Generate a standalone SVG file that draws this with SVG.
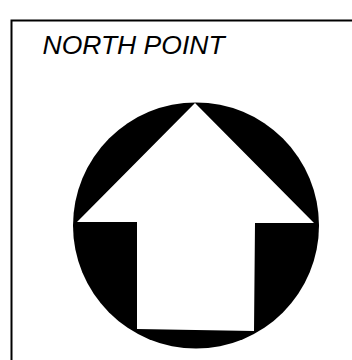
<svg xmlns="http://www.w3.org/2000/svg" width="352" height="360" viewBox="0 0 352 360">
<style>
.frame{fill:none;stroke:#000;stroke-width:2}
.title{font-family:"Liberation Sans",Arial,sans-serif;font-style:italic;font-size:26.5px;fill:#000}
</style>
<rect width="352" height="360" fill="#fff"/>
<rect class="frame" x="11.5" y="20.5" width="360" height="360"/>
<text class="title" x="42.5" y="54">NORTH POINT</text>
<g id="north-point">
<circle cx="196" cy="225.5" r="123" fill="#000"/>
<polygon points="195,103 314,223 255,223 254,331 137,329 137,222 77,222" fill="#fff"/>
</g>
<g id="connectors"></g>
</svg>
